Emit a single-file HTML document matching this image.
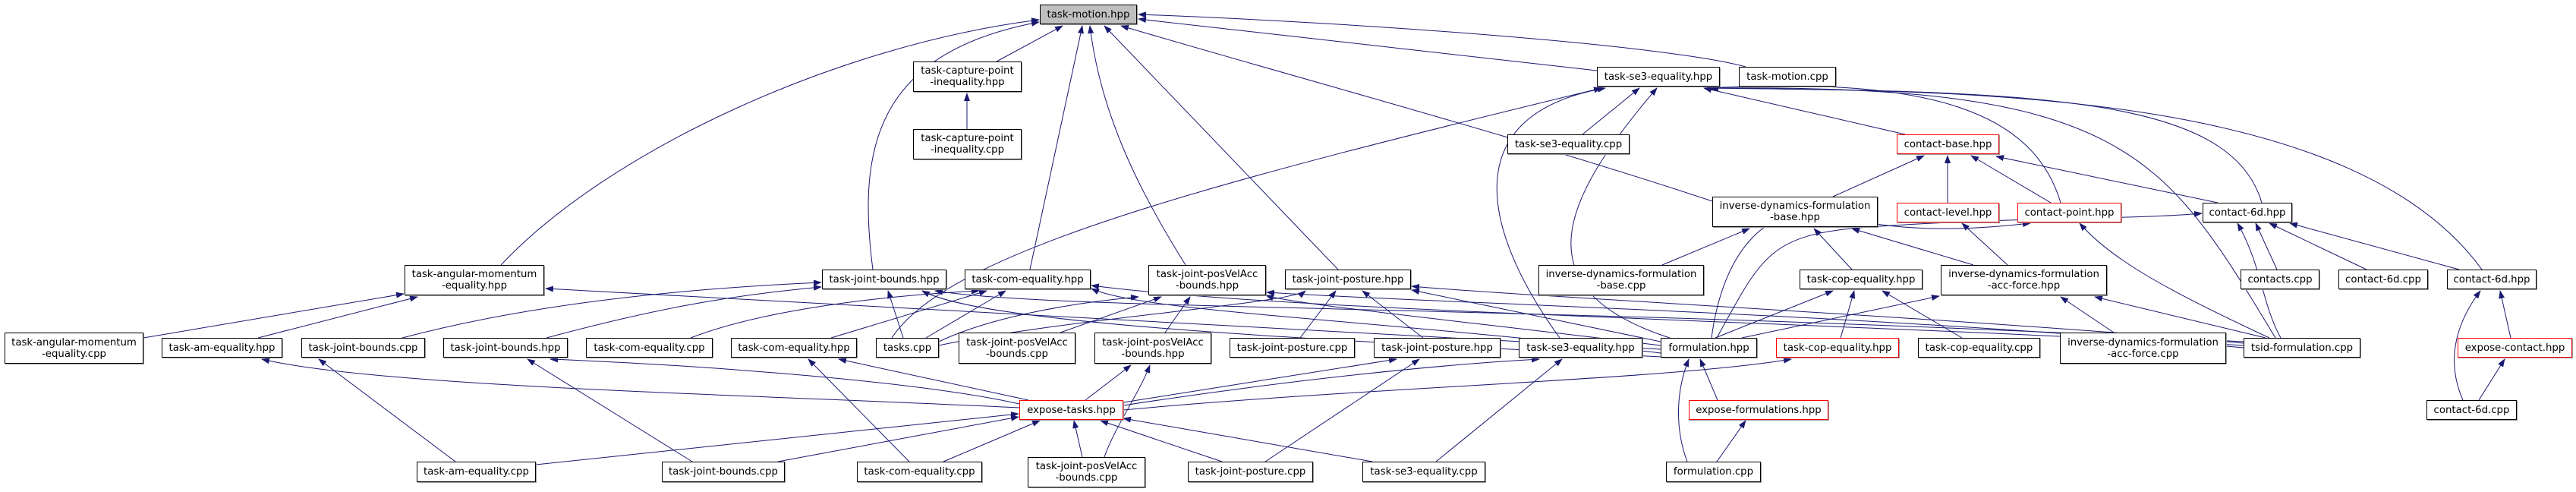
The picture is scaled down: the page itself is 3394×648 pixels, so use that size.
<!DOCTYPE html>
<html><head><meta charset="utf-8">
<style>
html,body{margin:0;padding:0;background:#fff;}
body{width:3394px;height:648px;position:relative;overflow:hidden;font-family:"DejaVu Sans","Liberation Sans",sans-serif;}
.n{position:absolute;box-sizing:border-box;border:1px solid #000;background:#fff;font-size:13.3px;line-height:15px;color:#000;display:flex;align-items:center;justify-content:center;text-align:center;white-space:nowrap;box-shadow:1px 1px 0 #999;}
.r{border-color:#f00;}
.g{background:#bfbfbf;}
svg{position:absolute;left:0;top:0;}
</style></head><body>
<svg width="3394" height="648" viewBox="0 0 3394 648">
<defs><marker id="a" markerWidth="11" markerHeight="8" refX="10" refY="4" orient="auto" markerUnits="userSpaceOnUse"><path d="M0,0 L11,4 L0,8 z" fill="#191970"/></marker></defs>
<g fill="none" stroke="#191970" stroke-width="1" marker-end="url(#a)">
<path d="M660,349 C800,200 1100,60 1369,26"/>
<path d="M1150,355 C1130,200 1150,70 1369,29"/>
<path d="M1313,81 L1400,34"/>
<path d="M1357,355 L1426,34"/>
<path d="M1562,349 C1500,250 1450,150 1436,34"/>
<path d="M1763,355 L1455,34"/>
<path d="M2256,265 C2000,180 1700,100 1477,34"/>
<path d="M2104,93 L1500,25"/>
<path d="M2300,88 C2200,60 1800,30 1500,19"/>
<path d="M1274,170 L1274,123"/>
<path d="M2085,177 L2160,116"/>
<path d="M1175,445 C1250,330 1600,240 2110,116"/>
<path d="M2055,445 C1950,300 1920,150 2115,116"/>
<path d="M2200,445 C2000,380 2060,260 2183,116"/>
<path d="M2510,177 L2245,116"/>
<path d="M2715,267 C2680,150 2550,100 2250,116"/>
<path d="M2980,267 C2940,130 2700,120 2252,116"/>
<path d="M3270,355 C3100,120 2600,120 2254,116"/>
<path d="M2998,445 C2850,200 2800,110 2250,116"/>
<path d="M2415,259 L2535,205"/>
<path d="M2566,267 L2566,205"/>
<path d="M2702,267 L2597,205"/>
<path d="M2922,267 L2630,206"/>
<path d="M2190,349 L2305,301"/>
<path d="M2440,355 L2390,301"/>
<path d="M2600,349 L2440,301"/>
<path d="M2645,349 L2585,294"/>
<path d="M2255,445 C2270,330 2330,260 2420,285 C2520,310 2620,300 2675,294"/>
<path d="M2990,445 C2850,380 2780,340 2740,294"/>
<path d="M2262,445 C2320,340 2330,310 2450,300 C2650,285 2800,290 2901,281"/>
<path d="M3005,445 C2980,400 2980,350 2948,294"/>
<path d="M3000,355 L2972,294"/>
<path d="M3118,355 L2990,294"/>
<path d="M3240,355 L3017,294"/>
<path d="M3308,445 L3294,383"/>
<path d="M3245,527 C3220,470 3240,420 3268,383"/>
<path d="M3266,527 L3300,473"/>
<path d="M2260,445 L2415,383"/>
<path d="M2425,445 L2443,383"/>
<path d="M2585,445 L2480,383"/>
<path d="M2295,445 L2555,390"/>
<path d="M2785,438 L2715,391"/>
<path d="M2985,445 L2760,391"/>
<path d="M2223,608 C2205,560 2210,510 2225,473"/>
<path d="M2263,527 L2240,473"/>
<path d="M2262,608 L2300,554"/>
<path d="M1480,540 C1800,510 2200,500 2360,473"/>
<path d="M1480,534 C1700,500 1900,480 2028,473"/>
<path d="M1480,530 L1840,473"/>
<path d="M1667,608 L1870,473"/>
<path d="M1892,608 L2058,473"/>
<path d="M1430,527 L1490,481"/>
<path d="M1455,602 C1470,560 1500,520 1515,481"/>
<path d="M1355,527 L1105,473"/>
<path d="M1198,608 L1065,473"/>
<path d="M1343,532 C1200,500 900,480 725,473"/>
<path d="M912,608 L695,473"/>
<path d="M1343,537 C1000,520 500,510 345,473"/>
<path d="M600,608 L420,473"/>
<path d="M706,612 L1342,545"/>
<path d="M1025,608 L1342,549"/>
<path d="M1243,608 L1370,554"/>
<path d="M1426,602 L1415,554"/>
<path d="M1610,608 L1450,554"/>
<path d="M1808,608 L1480,551"/>
<path d="M340,445 L550,391"/>
<path d="M189,445 L532,387"/>
<path d="M2188,460 C1500,420 900,390 719,380"/>
<path d="M530,445 C700,400 900,380 1082,372"/>
<path d="M720,445 C850,410 950,390 1082,378"/>
<path d="M1190,445 L1170,383"/>
<path d="M2188,470 C1800,450 1300,430 1215,383"/>
<path d="M2956,450 C2000,400 1400,410 1232,383"/>
<path d="M910,445 C1000,410 1150,390 1290,383"/>
<path d="M1095,445 L1300,383"/>
<path d="M1220,445 L1325,383"/>
<path d="M2188,465 C1800,420 1500,410 1438,380"/>
<path d="M2956,455 C2300,420 1700,410 1438,376"/>
<path d="M1397,438 L1530,391"/>
<path d="M1535,438 L1568,391"/>
<path d="M1237,450 C1300,420 1400,400 1500,391"/>
<path d="M2188,455 C1900,420 1700,400 1668,389"/>
<path d="M2956,458 C2400,410 1900,400 1669,385"/>
<path d="M1713,445 L1760,383"/>
<path d="M1875,445 L1795,383"/>
<path d="M1237,455 C1400,420 1700,400 1720,383"/>
<path d="M2188,450 L1860,382"/>
<path d="M2956,452 C2600,420 2000,390 1860,377"/>
</g>
</svg>
<div class="n g" style="left:1370px;top:6px;width:128px;height:26px">task-motion.hpp</div>
<div class="n" style="left:1203px;top:81px;width:143px;height:40px">task-capture-point<br>-inequality.hpp</div>
<div class="n" style="left:1203px;top:170px;width:143px;height:40px">task-capture-point<br>-inequality.cpp</div>
<div class="n" style="left:2104px;top:88px;width:162px;height:26px">task-se3-equality.hpp</div>
<div class="n" style="left:2291px;top:88px;width:128px;height:26px">task-motion.cpp</div>
<div class="n" style="left:1986px;top:177px;width:161px;height:26px">task-se3-equality.cpp</div>
<div class="n r" style="left:2499px;top:177px;width:135px;height:26px">contact-base.hpp</div>
<div class="n" style="left:2256px;top:259px;width:218px;height:40px">inverse-dynamics-formulation<br>-base.hpp</div>
<div class="n r" style="left:2499px;top:267px;width:135px;height:26px">contact-level.hpp</div>
<div class="n r" style="left:2658px;top:267px;width:137px;height:26px">contact-point.hpp</div>
<div class="n" style="left:2902px;top:267px;width:118px;height:26px">contact-6d.hpp</div>
<div class="n" style="left:533px;top:349px;width:184px;height:40px">task-angular-momentum<br>-equality.hpp</div>
<div class="n" style="left:1083px;top:355px;width:164px;height:26px">task-joint-bounds.hpp</div>
<div class="n" style="left:1271px;top:355px;width:166px;height:26px">task-com-equality.hpp</div>
<div class="n" style="left:1513px;top:349px;width:155px;height:40px">task-joint-posVelAcc<br>-bounds.hpp</div>
<div class="n" style="left:1693px;top:355px;width:166px;height:26px">task-joint-posture.hpp</div>
<div class="n" style="left:2027px;top:349px;width:218px;height:40px">inverse-dynamics-formulation<br>-base.cpp</div>
<div class="n" style="left:2371px;top:355px;width:162px;height:26px">task-cop-equality.hpp</div>
<div class="n" style="left:2557px;top:349px;width:219px;height:40px">inverse-dynamics-formulation<br>-acc-force.hpp</div>
<div class="n" style="left:2952px;top:355px;width:104px;height:26px">contacts.cpp</div>
<div class="n" style="left:3081px;top:355px;width:118px;height:26px">contact-6d.cpp</div>
<div class="n" style="left:3224px;top:355px;width:118px;height:26px">contact-6d.hpp</div>
<div class="n" style="left:6px;top:438px;width:183px;height:41px">task-angular-momentum<br>-equality.cpp</div>
<div class="n" style="left:213px;top:445px;width:159px;height:26px">task-am-equality.hpp</div>
<div class="n" style="left:397px;top:445px;width:163px;height:26px">task-joint-bounds.cpp</div>
<div class="n" style="left:584px;top:445px;width:164px;height:26px">task-joint-bounds.hpp</div>
<div class="n" style="left:772px;top:445px;width:167px;height:26px">task-com-equality.cpp</div>
<div class="n" style="left:963px;top:445px;width:166px;height:26px">task-com-equality.hpp</div>
<div class="n" style="left:1154px;top:445px;width:83px;height:26px">tasks.cpp</div>
<div class="n" style="left:1263px;top:438px;width:154px;height:41px">task-joint-posVelAcc<br>-bounds.cpp</div>
<div class="n" style="left:1442px;top:438px;width:154px;height:41px">task-joint-posVelAcc<br>-bounds.hpp</div>
<div class="n" style="left:1620px;top:445px;width:165px;height:26px">task-joint-posture.cpp</div>
<div class="n" style="left:1810px;top:445px;width:167px;height:26px">task-joint-posture.hpp</div>
<div class="n" style="left:2001px;top:445px;width:163px;height:26px">task-se3-equality.hpp</div>
<div class="n" style="left:2188px;top:445px;width:127px;height:26px">formulation.hpp</div>
<div class="n r" style="left:2340px;top:445px;width:162px;height:26px">task-cop-equality.hpp</div>
<div class="n" style="left:2527px;top:445px;width:161px;height:26px">task-cop-equality.cpp</div>
<div class="n" style="left:2714px;top:438px;width:219px;height:41px">inverse-dynamics-formulation<br>-acc-force.cpp</div>
<div class="n" style="left:2956px;top:445px;width:154px;height:26px">tsid-formulation.cpp</div>
<div class="n r" style="left:3238px;top:445px;width:151px;height:26px">expose-contact.hpp</div>
<div class="n r" style="left:1343px;top:527px;width:137px;height:26px">expose-tasks.hpp</div>
<div class="n r" style="left:2225px;top:527px;width:184px;height:26px">expose-formulations.hpp</div>
<div class="n" style="left:3197px;top:527px;width:119px;height:26px">contact-6d.cpp</div>
<div class="n" style="left:549px;top:608px;width:157px;height:27px">task-am-equality.cpp</div>
<div class="n" style="left:872px;top:608px;width:162px;height:27px">task-joint-bounds.cpp</div>
<div class="n" style="left:1129px;top:608px;width:165px;height:27px">task-com-equality.cpp</div>
<div class="n" style="left:1354px;top:602px;width:155px;height:40px">task-joint-posVelAcc<br>-bounds.cpp</div>
<div class="n" style="left:1565px;top:608px;width:165px;height:27px">task-joint-posture.cpp</div>
<div class="n" style="left:1795px;top:608px;width:162px;height:27px">task-se3-equality.cpp</div>
<div class="n" style="left:2195px;top:608px;width:125px;height:27px">formulation.cpp</div>
</body></html>
